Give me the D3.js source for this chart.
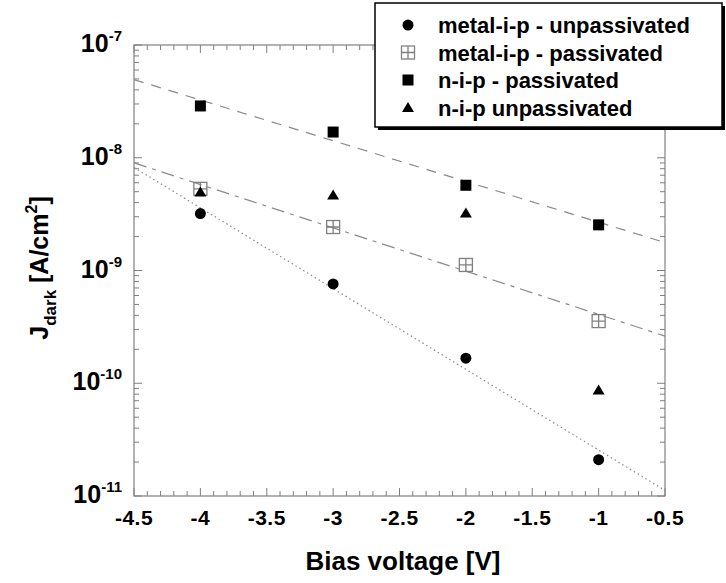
<!DOCTYPE html>
<html lang="en">
<head>
    <meta charset="utf-8"/>
    <script src="https://d3js.org/d3.v7.min.js"></script>
    <style>
        body { margin: 0; background: #fff; }
        text { font-family: Arial, "Liberation Sans", sans-serif; font-weight: bold; fill: #000; }
    </style>
</head>
<body>
<script>
    // Data
    var voltages = [-4, -3, -2, -1];
    var metalUnpassivated = [3.2e-9, 7.6e-10, 1.67e-10, 2.1e-11];
    var metalPassivated = [5.3e-9, 2.43e-9, 1.12e-9, 3.56e-10];
    var nipPassivated = [2.88e-8, 1.69e-8, 5.7e-9, 2.54e-9];
    var nipUnpassivated = [4.97e-9, 4.68e-9, 3.23e-9, 8.7e-11];

    // Fitted lines (end points at -4.5 V and -0.5 V)
    var fitVoltages = [-4.5, -0.5];
    var fitMetalUnpassivated = [8.2e-9, 1.12e-11];
    var fitMetalPassivated = [9.0e-9, 2.62e-10];
    var fitNipPassivated = [4.93e-8, 1.77e-9];

    var xTicks = [-4.5, -4, -3.5, -3, -2.5, -2, -1.5, -1, -0.5];
    var yTicks = [1e-7, 1e-8, 1e-9, 1e-10, 1e-11];
    var legendLabels = ["metal-i-p - unpassivated", "metal-i-p - passivated", "n-i-p - passivated", "n-i-p unpassivated"];

    var width = 726, height = 583;
    var plot = {left: 134, right: 665, top: 45, bottom: 496};
    var axisColor = "#808080";

    var svg = d3.select("body").append("svg")
        .attr("width", width)
        .attr("height", height);

    var x = d3.scaleLinear().domain([-4.5, -0.5]).range([plot.left, plot.right]);
    var y = d3.scaleLog().domain([1e-11, 1e-7]).range([plot.bottom, plot.top]);

    // minor ticks: every 0.1 V and 2..9 per decade
    var xMinor = d3.range(-45, -4).map(function(d) { return d / 10; });
    var yMinor = [];
    yTicks.slice(1).forEach(function(t) {
        for (var k = 2; k <= 9; k++) yMinor.push(t * k);
    });

    var g = svg.append("g");

    // x ticks, bottom and top, pointing inward
    function isMajor(v) { return Math.abs(v * 2 - Math.round(v * 2)) < 1e-6; }
    g.selectAll("line.xtb")
        .data(xMinor)
        .enter().append("line")
        .attr("x1", function(d) { return x(d); })
        .attr("x2", function(d) { return x(d); })
        .attr("y1", plot.bottom)
        .attr("y2", function(d) { return plot.bottom - (isMajor(d) ? 8 : 5); })
        .style("stroke", axisColor);
    g.selectAll("line.xtt")
        .data(xMinor)
        .enter().append("line")
        .attr("x1", function(d) { return x(d); })
        .attr("x2", function(d) { return x(d); })
        .attr("y1", plot.top)
        .attr("y2", function(d) { return plot.top + (isMajor(d) ? 8 : 5); })
        .style("stroke", axisColor);

    // y ticks, left and right
    var yAll = yTicks.concat(yMinor);
    g.selectAll("line.ytl")
        .data(yAll)
        .enter().append("line")
        .attr("x1", plot.left)
        .attr("x2", function(d) { return plot.left + (yTicks.indexOf(d) >= 0 ? 8 : 5); })
        .attr("y1", function(d) { return y(d); })
        .attr("y2", function(d) { return y(d); })
        .style("stroke", axisColor);
    g.selectAll("line.ytr")
        .data(yAll)
        .enter().append("line")
        .attr("x1", plot.right)
        .attr("x2", function(d) { return plot.right - (yTicks.indexOf(d) >= 0 ? 8 : 5); })
        .attr("y1", function(d) { return y(d); })
        .attr("y2", function(d) { return y(d); })
        .style("stroke", axisColor);

    // frame
    g.append("rect")
        .attr("x", plot.left)
        .attr("y", plot.top)
        .attr("width", plot.right - plot.left)
        .attr("height", plot.bottom - plot.top)
        .style("fill", "none")
        .style("stroke", axisColor)
        .style("stroke-width", 1.2);

    // tick labels
    svg.selectAll("text.xl")
        .data(xTicks)
        .enter().append("text")
        .attr("x", function(d) { return x(d); })
        .attr("y", 525)
        .attr("text-anchor", "middle")
        .style("font-size", "21px")
        .style("letter-spacing", "0.5px")
        .text(function(d) { return d; });

    var yl = svg.selectAll("text.yl")
        .data(yTicks)
        .enter().append("text")
        .attr("x", 122)
        .attr("y", function(d) { return y(d) + 7; })
        .attr("text-anchor", "end")
        .style("font-size", "25px");
    yl.append("tspan").text("10");
    yl.append("tspan")
        .attr("dy", -11)
        .style("font-size", "15px")
        .text(function(d) { return Math.round(Math.log10(d)); });

    // axis titles
    svg.append("text")
        .attr("x", 403)
        .attr("y", 570)
        .attr("text-anchor", "middle")
        .style("font-size", "26px")
        .text("Bias voltage [V]");

    var yt = svg.append("text")
        .attr("transform", "translate(48,268) rotate(-90)")
        .attr("text-anchor", "middle")
        .style("font-size", "25px");
    yt.append("tspan").text("J");
    yt.append("tspan").attr("dy", 8).style("font-size", "17px").text("dark");
    yt.append("tspan").attr("dy", -8).text(" [A/cm");
    yt.append("tspan").attr("dy", -11).style("font-size", "16px").text("2");
    yt.append("tspan").attr("dy", 11).text("]");

    // fitted lines
    var fits = [
        {values: fitNipPassivated, dash: "10,8"},
        {values: fitMetalPassivated, dash: "13,6,4,6"},
        {values: fitMetalUnpassivated, dash: "1.5,3"}
    ];
    var line = d3.line()
        .x(function(d) { return x(d[0]); })
        .y(function(d) { return y(d[1]); });
    svg.selectAll("path.fit")
        .data(fits)
        .enter().append("path")
        .attr("d", function(f) { return line(d3.zip(fitVoltages, f.values)); })
        .style("fill", "none")
        .style("stroke", "#8a8a8a")
        .style("stroke-width", 1.2)
        .style("stroke-dasharray", function(f) { return f.dash; });

    // marker drawing helpers
    function drawCircle(sel) {
        sel.append("circle").attr("r", 5.5).style("fill", "#000");
    }
    function drawOpenSquare(sel) {
        sel.append("rect").attr("x", -6.5).attr("y", -6.5).attr("width", 13).attr("height", 13)
            .style("fill", "none").style("stroke", "#808080").style("stroke-width", 1.3);
        sel.append("path").attr("d", "M0,-6.5V6.5M-6.5,0H6.5")
            .style("stroke", "#808080").style("stroke-width", 1.3);
    }
    function drawSquare(sel) {
        sel.append("rect").attr("x", -5.5).attr("y", -5.5).attr("width", 11).attr("height", 11)
            .style("fill", "#000");
    }
    function drawTriangle(sel) {
        sel.append("path").attr("d", "M0,-5.5L6,4.5L-6,4.5Z").style("fill", "#000");
    }

    var series = [
        {values: metalUnpassivated, draw: drawCircle},
        {values: metalPassivated, draw: drawOpenSquare},
        {values: nipPassivated, draw: drawSquare},
        {values: nipUnpassivated, draw: drawTriangle}
    ];
    series.forEach(function(s) {
        svg.selectAll(null)
            .data(d3.zip(voltages, s.values))
            .enter().append("g")
            .attr("transform", function(d) { return "translate(" + x(d[0]) + "," + y(d[1]) + ")"; })
            .call(s.draw);
    });

    // legend with drop shadow
    var legend = svg.append("g");
    legend.append("rect")
        .attr("x", 378).attr("y", 6).attr("width", 347).attr("height", 124)
        .style("fill", "#000");
    legend.append("rect")
        .attr("x", 375).attr("y", 3).attr("width", 347).attr("height", 124)
        .style("fill", "#fff").style("stroke", "#000").style("stroke-width", 1.5);
    series.forEach(function(s, i) {
        var rowY = 25 + i * 27.5;
        legend.append("g")
            .attr("transform", "translate(408," + rowY + ")")
            .call(s.draw);
        legend.append("text")
            .attr("x", 438)
            .attr("y", rowY + 8)
            .style("font-size", "22px")
            .text(legendLabels[i]);
    });
</script>
</body>
</html>
